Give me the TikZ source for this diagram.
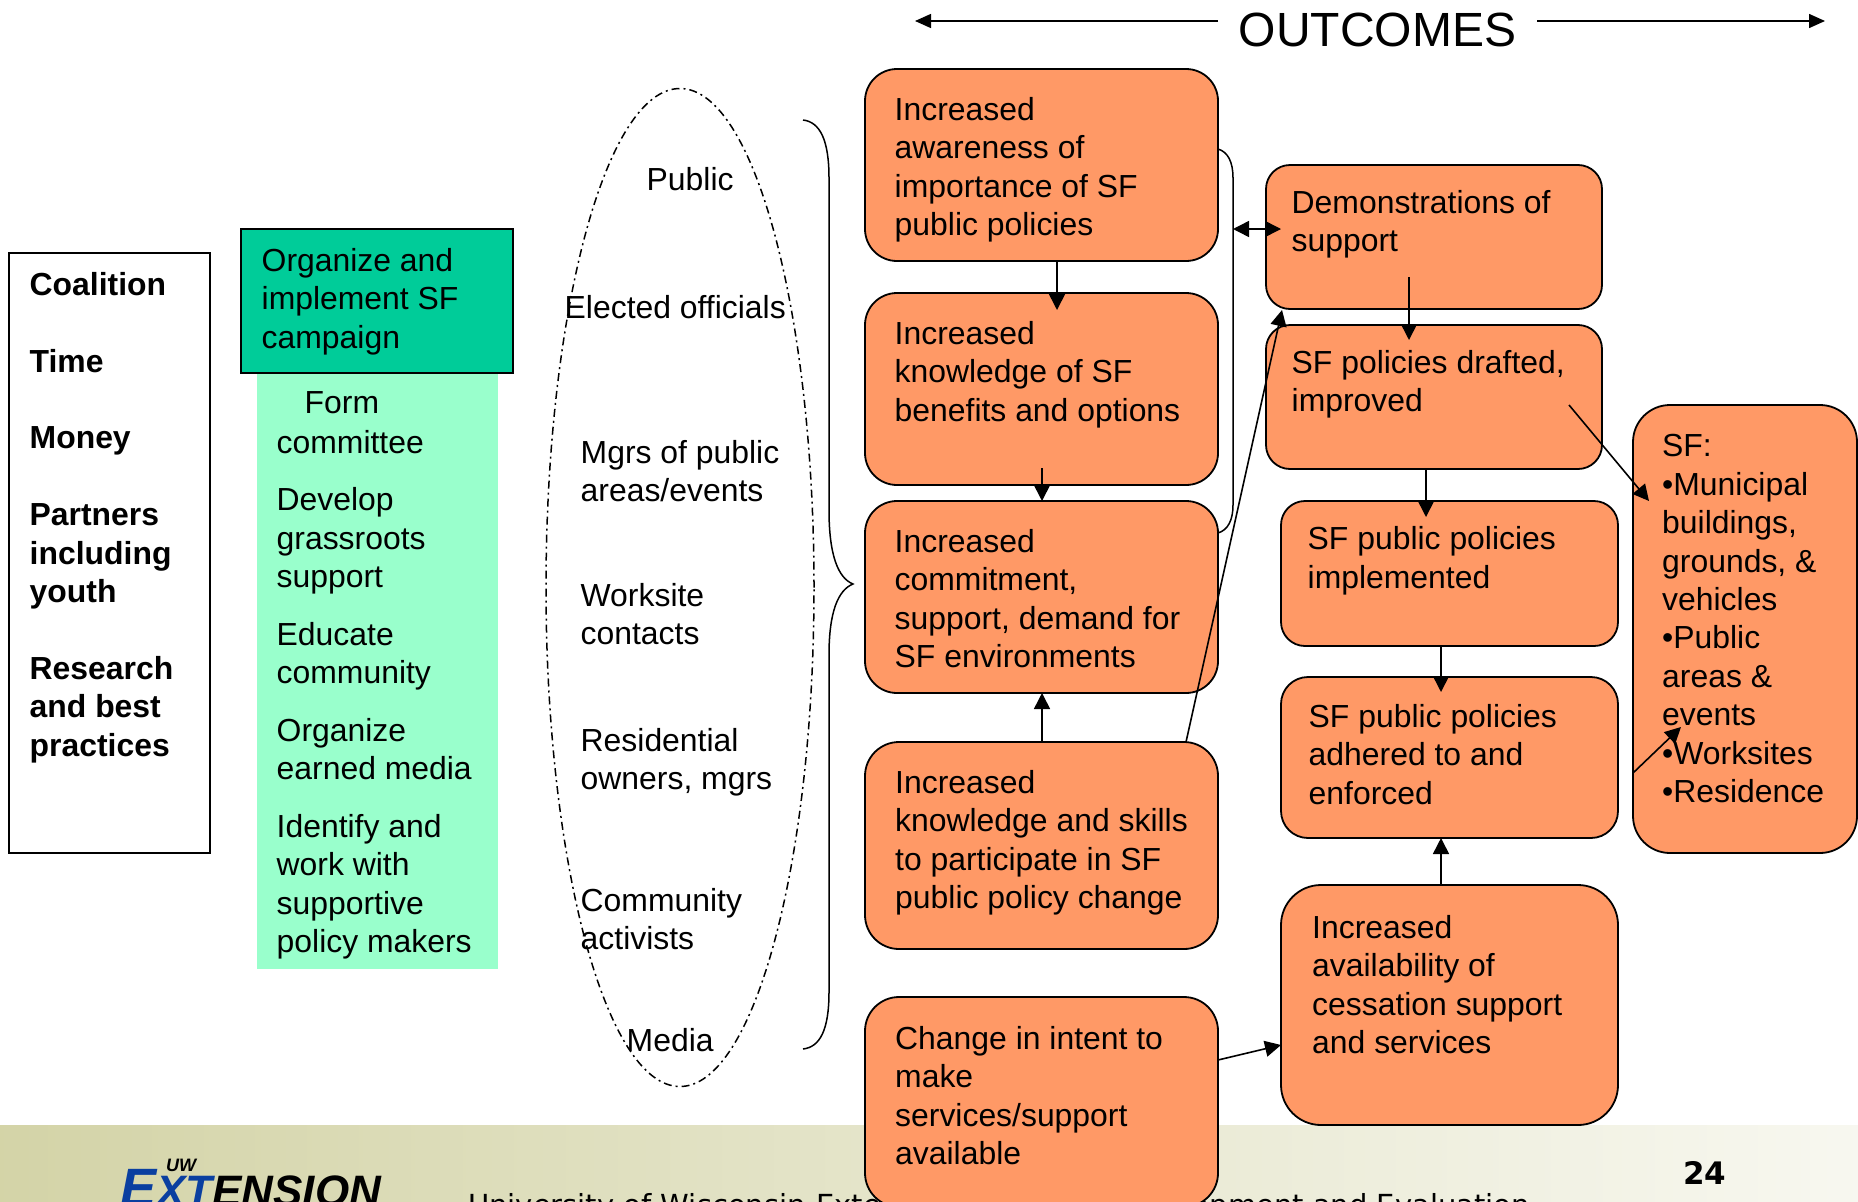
\documentclass[tikz,border=0pt]{standalone}
\usepackage{fontspec}
\setmainfont{Liberation Sans}
\newfontfamily\footfont{DejaVu Sans}
\usetikzlibrary{arrows.meta,shapes.geometric}
\definecolor{outcomefill}{HTML}{FF9966}
\definecolor{campaignfill}{HTML}{00CC99}
\definecolor{activityfill}{HTML}{99FFCC}
\definecolor{footerfill}{HTML}{C8C890}
\definecolor{logoblue}{HTML}{0A3FA0}
\tikzset{
  outcome/.style={draw=black,line width=1.8pt,fill=outcomefill,rounded corners=#1,inner sep=0pt},
  words/.style={anchor=north west,inner sep=0pt,align=left,font=\fontsize{31.9}{38.4}\selectfont},
  wordsbf/.style={words,font=\fontsize{31.9}{38.4}\selectfont\bfseries},
  flow/.style={line width=1.6pt,-{Triangle[length=16pt,width=16pt]}},
  thinline/.style={line width=1.5pt}
}
\begin{document}
\begin{tikzpicture}[x=1pt,y=-1pt]
  \useasboundingbox (0,0) rectangle (1858,1202);
  \clip (0,0) rectangle (1858,1202);
  % footer band
  \shade[left color=footerfill,right color=white] (-600,1125) rectangle (2250,1202);
  \node[anchor=north west,inner sep=0pt,font=\fontsize{18}{18}\selectfont\bfseries\itshape] (uwmark) at (166,1159) {UW};
  \node[anchor=north west,inner sep=0pt,font=\fontsize{54}{54}\selectfont\bfseries\itshape] (extlogo) at (120,1169)
    {\textcolor{logoblue}{E\fontsize{44}{44}\selectfont XT}\fontsize{44}{44}\selectfont ENSION};
  \node[anchor=north west,inner sep=0pt,font=\fontsize{29}{29}\footfont] (footline) at (468,1193)
    {University of Wisconsin-Extension, Program Development and Evaluation};
  \node[anchor=north west,inner sep=0pt,font=\fontsize{31}{31}\footfont\bfseries] (pagenum) at (1683,1161) {24};
  % outcomes header
  \node[font=\fontsize{48}{48}\selectfont] (outcomes) at (1377.5,29.5) {OUTCOMES};
  \coordinate (headleft) at (915,21);
  \coordinate (headright) at (1825,21);
  \draw[thinline,-{Triangle[length=16pt,width=14pt]}] (1218,21) -- (headleft);
  \draw[thinline,-{Triangle[length=16pt,width=14pt]}] (1537,21) -- (headright);
  % inputs
  \node[draw=black,line width=1.8pt,minimum width=201pt,minimum height=600pt,inner sep=0pt] (inputs) at (109.5,553) {};
  \node[wordsbf] (inputstxt) at (29.5,272) {Coalition\\[38.4pt]Time\\[38.4pt]Money\\[38.4pt]Partners\\including\\youth\\[38.4pt]Research\\and best\\practices};
  % activities
  \node[fill=activityfill,minimum width=241pt,minimum height=596pt,inner sep=0pt] (activities) at (377.5,671) {};
  \node[draw=black,line width=1.8pt,fill=campaignfill,minimum width=272pt,minimum height=144pt,inner sep=0pt] (campaign) at (377,301) {};
  \node[words] (campaigntxt) at (261.5,248) {Organize and\\implement SF\\campaign};
  \foreach \name/\x/\y/\txt in {form/304.5/391.5/{Form},
      formb/276.5/430/{committee},
      grass/276.5/487.5/{Develop\\grassroots\\support},
      educate/276.5/622/{Educate\\community},
      earned/276.5/718/{Organize\\earned media},
      identify/276.5/814/{Identify and\\work with\\supportive\\policy makers}} {
    \node[words] (\name) at (\x,\y) {\txt};
  }
  % audiences
  \node[ellipse,draw=black,line width=1.5pt,dash pattern=on 8pt off 4pt on 2pt off 4pt,minimum width=268pt,minimum height=998pt,inner sep=0pt] (audience) at (680,587.5) {};
  \foreach \name/\x/\y/\txt in {public/646.5/167/{Public},
      elected/564.5/295/{Elected officials},
      mgrs/580.5/440/{Mgrs of public\\areas/events},
      worksite/580.5/583/{Worksite\\contacts},
      residential/580.5/728/{Residential\\owners, mgrs},
      community/580.5/888/{Community\\activists},
      media/626.5/1028/{Media}} {
    \node[words] (\name) at (\x,\y) {\txt};
  }
  \coordinate (bracetop) at (803,120);
  \coordinate (bracetip) at (853,584);
  \coordinate (bracebot) at (803,1049);
  \draw[thinline] (bracetop) .. controls (820,122) and (829,140) .. (829,178) -- (829,510)
    .. controls (829,555) and (838,578) .. (bracetip) .. controls (838,590) and (829,612) .. (829,655)
    -- (829,992) .. controls (829,1030) and (820,1047) .. (bracebot);
  % outcome boxes
  \node[outcome=32pt,minimum width=353pt,minimum height=192pt] (aware) at (1041.5,165) {};
  \node[outcome=32pt,minimum width=353pt,minimum height=192pt] (knowledge) at (1041.5,389) {};
  \node[outcome=32pt,minimum width=353pt,minimum height=192pt] (commit) at (1041.5,597) {};
  \node[outcome=34pt,minimum width=353pt,minimum height=207pt] (skills) at (1041.5,845.5) {};
  \node[outcome=34pt,minimum width=353pt,minimum height=210pt] (intent) at (1041.5,1102) {};
  \node[outcome=24pt,minimum width=336pt,minimum height=144pt] (demo) at (1434,237) {};
  \node[outcome=24pt,minimum width=336pt,minimum height=144pt] (drafted) at (1434,397) {};
  \node[outcome=24pt,minimum width=337pt,minimum height=145pt] (implemented) at (1449.5,573.5) {};
  \node[outcome=27pt,minimum width=337pt,minimum height=161pt] (adhered) at (1449.5,757.5) {};
  \node[outcome=40pt,minimum width=337pt,minimum height=240pt] (cessation) at (1449.5,1005) {};
  \node[outcome=37pt,minimum width=224pt,minimum height=448pt] (places) at (1745,629) {};
  \node[words] (awaretxt) at (894.5,97) {Increased\\awareness of\\importance of SF\\public policies};
  \node[words] (knowledgetxt) at (894.5,321) {Increased\\knowledge of SF\\benefits and options};
  \node[words] (committxt) at (894.5,529) {Increased\\commitment,\\support, demand for\\SF environments};
  \node[words] (skillstxt) at (895,770) {Increased\\knowledge and skills\\to participate in SF\\public policy change};
  \node[words] (intenttxt) at (895,1026) {Change in intent to\\make\\services/support\\available};
  \node[words] (demotxt) at (1291.5,190) {Demonstrations of\\support};
  \node[words] (draftedtxt) at (1291.5,350) {SF policies drafted,\\improved};
  \node[words] (implementedtxt) at (1307.5,526.5) {SF public policies\\implemented};
  \node[words] (adheredtxt) at (1308.5,704) {SF public policies\\adhered to and\\enforced};
  \node[words] (cessationtxt) at (1312,915) {Increased\\availability of\\cessation support\\and services};
  \node[words] (placestxt) at (1662,434.5) {SF:\\•Municipal\\buildings,\\grounds, \&\\vehicles\\•Public\\areas \&\\events\\•Worksites\\•Residence};
  % connectors
  \coordinate (awareout) at (1057,261);
  \coordinate (knowin) at (1057,310);
  \coordinate (knowout) at (1042,468);
  \coordinate (commitin) at (1042,501);
  \coordinate (skillsout) at (1042,742);
  \coordinate (commitunder) at (1042,693);
  \coordinate (skillscorner) at (1186,742);
  \coordinate (democorner) at (1282,310);
  \coordinate (brackettop) at (1218,149);
  \coordinate (bracketbot) at (1218,533);
  \coordinate (bracketmid) at (1233,229);
  \coordinate (demoleft) at (1281,229);
  \coordinate (demoinner) at (1409,277);
  \coordinate (draftin) at (1409,340);
  \coordinate (draftout) at (1426,469);
  \coordinate (implin) at (1426,517);
  \coordinate (implout) at (1441,646);
  \coordinate (adherein) at (1441,692);
  \coordinate (cessout) at (1441,885);
  \coordinate (adhereunder) at (1441,838);
  \coordinate (intentout) at (1218,1060);
  \coordinate (cessin) at (1281,1045);
  \coordinate (draftinner) at (1569,405);
  \coordinate (placesin) at (1649,501);
  \coordinate (placesedge) at (1633,773);
  \coordinate (placesinner) at (1681,727);
  \draw[flow] (awareout) -- (knowin);
  \draw[flow] (knowout) -- (commitin);
  \draw[flow] (skillsout) -- (commitunder);
  \draw[flow] (skillscorner) -- (democorner);
  \draw[thinline] (brackettop) .. controls (1228,152) and (1233,162) .. (1233,178) -- (1233,505)
    .. controls (1233,520) and (1228,530) .. (bracketbot);
  \draw[thinline,{Triangle[length=16pt,width=16pt]}-{Triangle[length=16pt,width=16pt]}] (bracketmid) -- (demoleft);
  \draw[flow] (demoinner) -- (draftin);
  \draw[flow] (draftout) -- (implin);
  \draw[flow] (implout) -- (adherein);
  \draw[flow] (cessout) -- (adhereunder);
  \draw[flow] (intentout) -- (cessin);
  \draw[flow] (draftinner) -- (placesin);
  \draw[flow] (placesedge) -- (placesinner);
\end{tikzpicture}
\end{document}
